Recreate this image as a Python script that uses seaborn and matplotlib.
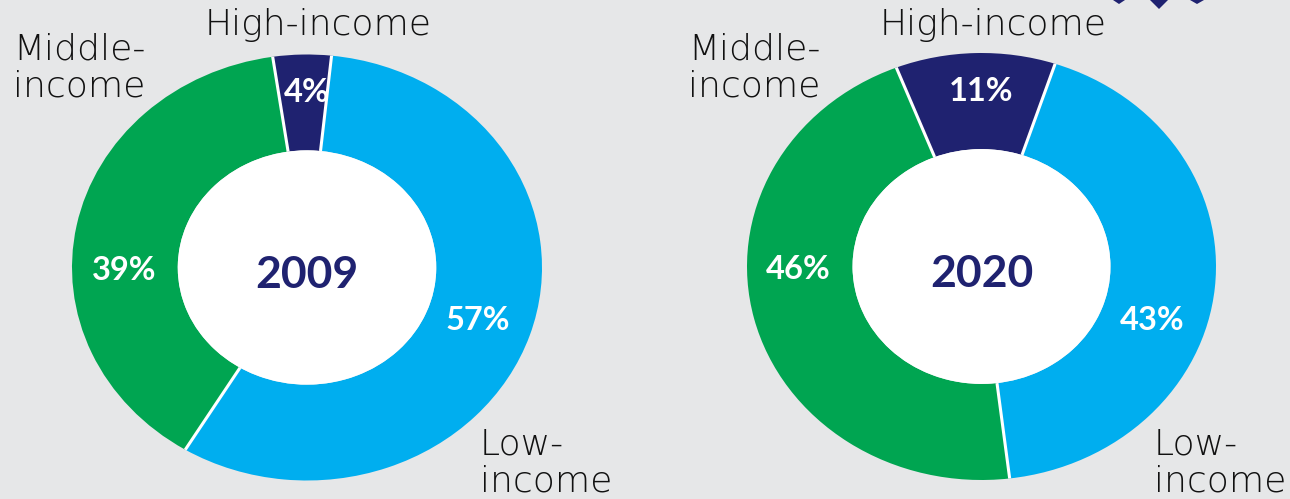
import matplotlib
matplotlib.use("Agg")
import matplotlib.pyplot as plt
import numpy as np
import seaborn as sns
from matplotlib.patches import Ellipse, Polygon

# Shares of each income group, by year
categories = ["High-income", "Middle-income", "Low-income"]
shares_2009 = [4, 39, 57]
shares_2020 = [11, 46, 43]
years = ["2009", "2020"]
pct_labels_2009 = ["4%", "39%", "57%"]
pct_labels_2020 = ["11%", "46%", "43%"]
group_labels = ["High-income", "Middle-\nincome", "Low-\nincome"]

BG = "#e6e7e8"
NAVY = "#1f2270"
colors = sns.color_palette([NAVY, "#00a551", "#00aeef"])

sns.set_theme(style="white")
plt.rcParams["font.family"] = ["Lato", "DejaVu Sans"]

W, H = 1290, 499
fig = plt.figure(figsize=(W / 100, H / 100), dpi=100, facecolor=BG)

# panel geometry in pixels: (centre x, centre y from top, radius x, radius y)
panels = [(307, 267.5, 235, 213), (981.5, 266.5, 234.5, 213.5)]
start_angles = [84, 71.7]
hole = 0.55
# angle (deg) and radius where each percentage label sits
label_angle = [90, 181, 341]
label_radius = [0.82, 0.78, 0.77]


def add_donut(ax, values, pcts, year, start):
    wedges, _ = ax.pie(values, colors=colors, startangle=start, counterclock=True,
                       radius=1.0, wedgeprops=dict(width=1 - hole, linewidth=0))
    ax.set_xlim(-1, 1)
    ax.set_ylim(-1, 1)
    ax.set_aspect("auto")
    ax.axis("off")
    # white separators between segments
    for w in wedges:
        t = np.deg2rad(w.theta1)
        ax.plot([hole * np.cos(t), np.cos(t)], [hole * np.sin(t), np.sin(t)],
                color="white", lw=2.2, solid_capstyle="butt", zorder=3)
    ax.add_patch(Ellipse((0, 0), 2 * hole, 2 * hole, facecolor="white",
                         edgecolor="none", zorder=4))
    ax.text(0, -0.035, year, ha="center", va="center", fontsize=32,
            fontweight="bold", color=NAVY, zorder=5)
    for txt, a, r in zip(pcts, label_angle, label_radius):
        t = np.deg2rad(a)
        ax.text(r * np.cos(t), r * np.sin(t), txt, ha="center", va="center",
                fontsize=23.5, fontweight="bold", color="white", zorder=5)


axes = []
for (cx, cy, rx, ry), vals, pcts, yr, st in zip(
        panels, [shares_2009, shares_2020], [pct_labels_2009, pct_labels_2020],
        years, start_angles):
    ax = fig.add_axes([(cx - rx) / W, (H - cy - ry) / H, 2 * rx / W, 2 * ry / H])
    ax.set_facecolor("none")
    add_donut(ax, vals, pcts, yr, st)
    axes.append(ax)


def fig_text(x, y, s, **kw):
    fig.text(x / W, 1 - y / H, s, color="#111111", fontsize=26,
             linespacing=1.08, family=["DejaVu Sans"], fontweight="light", **kw)


# group names around each ring
fig_text(318, 25, group_labels[0], ha="center", va="center")
fig_text(13, 68, group_labels[1], ha="left", va="center")
fig_text(480, 463, group_labels[2], ha="left", va="center")
fig_text(993, 25, group_labels[0], ha="center", va="center")
fig_text(688, 68, group_labels[1], ha="left", va="center")
fig_text(1154, 463, group_labels[2], ha="left", va="center")

# decorative emblem edge at the top right
for px, depth, half in [(1119, 4, 6), (1159, 9, 9), (1197, 4, 7)]:
    fig.patches.append(Polygon(
        [((px - half) / W, 1.0), ((px + half) / W, 1.0), (px / W, 1 - depth / H)],
        closed=True, transform=fig.transFigure, facecolor=NAVY, edgecolor="none"))

fig.savefig("out.png", dpi=100, facecolor=BG)
